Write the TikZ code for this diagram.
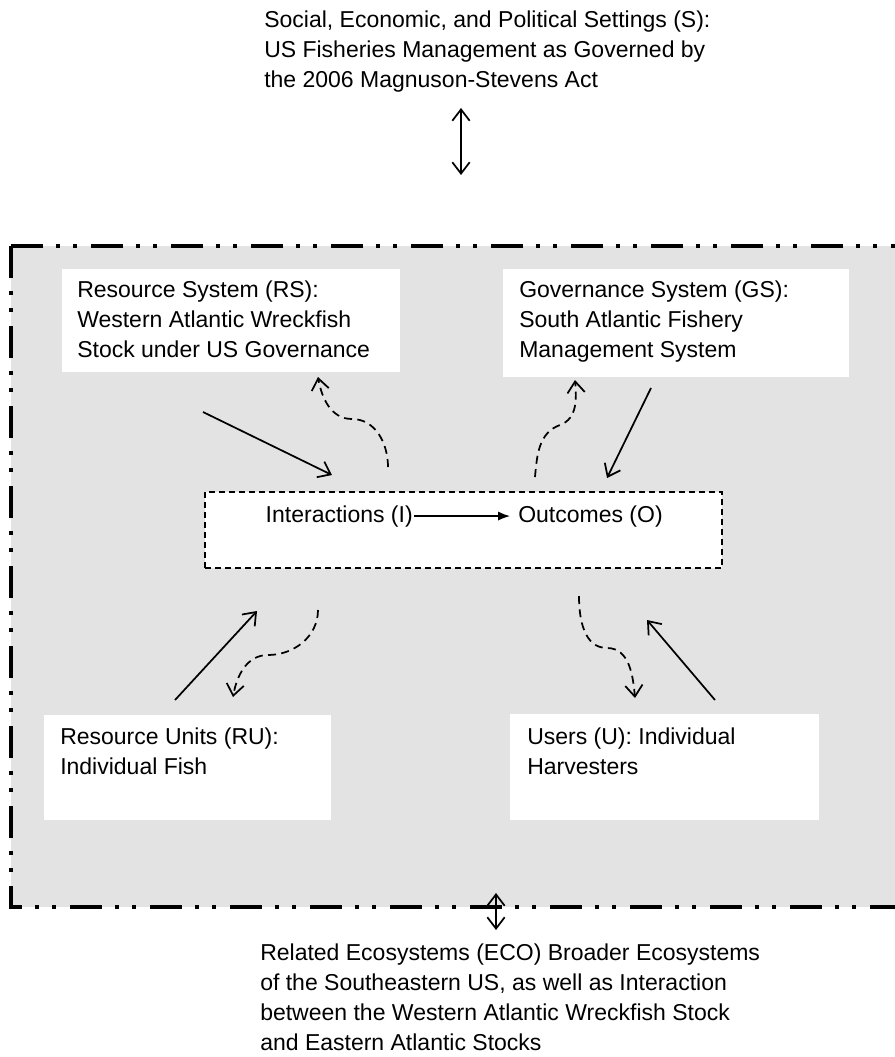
\documentclass[tikz,border=0pt]{standalone}
\usepackage{fontspec}
\setmainfont{Liberation Sans}
\usetikzlibrary{arrows.meta, fit}
\definecolor{panelgray}{RGB}{227,227,227}
\newcommand{\labelsize}{\fontsize{17.25pt}{22.5pt}\selectfont}

\begin{document}
\begin{tikzpicture}[
    x=0.75pt, y=-0.75pt,
    sysbox/.style={rectangle, draw=none, fill=white, inner sep=0pt},
    focusbox/.style={rectangle, draw=black, fill=white, inner sep=0pt,
                     line width=1.1pt, dash pattern=on 4.5pt off 3pt},
    txt/.style={anchor=base west, align=left, inner sep=0pt, font=\labelsize},
    link/.style={-{Straight Barb[length=8.5pt,width=13pt]}, line width=1.3pt},
    feedback/.style={link, dash pattern=on 6pt off 4pt},
    twoway/.style={{Straight Barb[length=8.5pt,width=13pt]}-{Straight Barb[length=8.5pt,width=13pt]},
                   line width=1.3pt},
    flow/.style={-{Latex[length=9pt,width=7pt]}, line width=1.1pt},
    frameline/.style={line width=3pt,
                      dash pattern=on 24pt off 10pt on 3pt off 9.5pt on 3pt off 10.5pt}
]
\useasboundingbox (0,0) rectangle (895,1057);

% focal action situation panel
\fill[panelgray] (11,246) rectangle (895,907);
\draw[frameline] (11,246) -- (895,246);
\draw[frameline] (11,246) -- (11,907) -- (895,907);

% outer settings (anchored at the baseline of the last line)
\node[txt] (settings) at (264,87) {Social, Economic, and Political Settings (S):\\US Fisheries Management as Governed by\\the 2006 Magnuson-Stevens Act};
\node[txt] (eco) at (260,1050) {Related Ecosystems (ECO) Broader Ecosystems\\of the Southeastern US, as well as Interaction\\between the Western Atlantic Wreckfish Stock\\and Eastern Atlantic Stocks};

% subsystems
\node[sysbox, fit={(62,269) (400,372)}] (rs) {};
\node[sysbox, fit={(503,269) (849,377)}] (gs) {};
\node[sysbox, fit={(44,715) (331,820)}] (ru) {};
\node[sysbox, fit={(510,714) (819,820)}] (us) {};
\node[txt] (rstext) at (77,357) {Resource System (RS):\\Western Atlantic Wreckfish\\Stock under US Governance};
\node[txt] (gstext) at (519,357) {Governance System (GS):\\South Atlantic Fishery\\Management System};
\node[txt] (rutext) at (60,774) {Resource Units (RU):\\Individual Fish};
\node[txt] (ustext) at (527,774) {Users (U): Individual\\Harvesters};

% interactions and outcomes
\node[focusbox, fit={(205,492) (722,568)}] (focus) {};
\node[txt, anchor=base east] (inter) at (413,522) {Interactions (I)};
\node[txt] (outc) at (518,522) {Outcomes (O)};
\draw[flow, shorten <=1pt, shorten >=6pt] (inter.east) -- (outc.west);

% links into and out of the focal situation
\coordinate (rsA) at (203,412);  \coordinate (rsB) at (332,475);
\coordinate (rsC) at (388,467);  \coordinate (rsD) at (318,377);
\coordinate (gsA) at (651,388);  \coordinate (gsB) at (607,478);
\coordinate (gsC) at (535,477);  \coordinate (gsD) at (575,380);
\coordinate (ruA) at (175,700);  \coordinate (ruB) at (257,611);
\coordinate (ruC) at (318,610);  \coordinate (ruD) at (233,697);
\coordinate (usA) at (715,700);  \coordinate (usB) at (647,620);
\coordinate (usC) at (579,596);  \coordinate (usD) at (635,698);

\draw[link] (rsA) -- (rsB);
\draw[feedback] (rsC) to[out=90,in=0] (352,419) to[out=180,in=-80] (rsD);
\draw[link] (gsA) -- (gsB);
\draw[feedback] (gsC) to[out=85,in=200] (560,425) to[out=20,in=-85] (gsD);
\draw[link] (ruA) -- (ruB);
\draw[feedback] (ruC) to[out=-90,in=0] (268,655) to[out=180,in=80] (ruD);
\draw[link] (usA) -- (usB);
\draw[feedback] (usC) to[out=-90,in=180] (607,648) to[out=0,in=95] (usD);

% links to the wider settings
\coordinate (sTop) at (461,108);  \coordinate (sBot) at (461,175);
\coordinate (eTop) at (496,893);  \coordinate (eBot) at (496,930);
\draw[twoway] (sTop) -- (sBot);
\draw[twoway] (eTop) -- (eBot);

\end{tikzpicture}
\end{document}
